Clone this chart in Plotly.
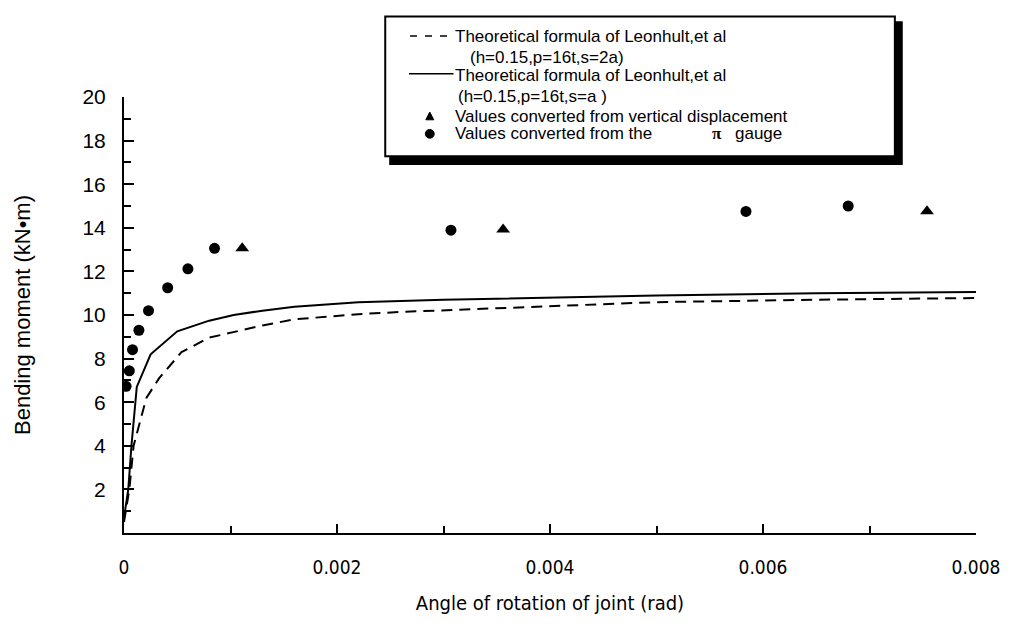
import plotly.graph_objects as go

# ---------------- data ----------------
solid_x = [0, 0.00004, 0.00007, 0.00012, 0.00025, 0.0005, 0.0008, 0.00103, 0.0013, 0.0016, 0.0022, 0.003, 0.005, 0.0065, 0.008]
solid_y = [0.7, 2.0, 4.0, 6.7, 8.2, 9.25, 9.74, 10.0, 10.2, 10.38, 10.58, 10.7, 10.9, 11.0, 11.06]

dashed_x = [0, 0.00005, 0.00009, 0.00021, 0.00033, 0.00054, 0.0008, 0.0013, 0.0016, 0.0022, 0.0026, 0.005, 0.0065, 0.008]
dashed_y = [0.5, 2.0, 4.0, 6.2, 7.1, 8.3, 8.96, 9.52, 9.8, 10.04, 10.14, 10.59, 10.7, 10.78]

gauge_x = [0.00002, 0.00005, 0.00008, 0.00014, 0.00023, 0.00041, 0.0006, 0.00085, 0.00307, 0.00584, 0.0068]
gauge_y = [6.73, 7.44, 8.41, 9.30, 10.2, 11.25, 12.12, 13.06, 13.89, 14.75, 15.0]

disp_x = [0.00111, 0.00356, 0.00754]
disp_y = [13.06, 13.92, 14.76]

x_tickvals = [0, 0.002, 0.004, 0.006, 0.008]
x_ticktext = ["0", "0.002", "0.004", "0.006", "0.008"]
y_tickvals = [2, 4, 6, 8, 10, 12, 14, 16, 18, 20]
y_ticktext = ["2", "4", "6", "8", "10", "12", "14", "16", "18", "20"]

legend_line1 = "Theoretical formula of Leonhult,et al"
legend_par_dashed = "(h=0.15,p=16t,s=2a)"
legend_par_solid = "(h=0.15,p=16t,s=a )"
legend_disp = "Values converted from vertical displacement"
legend_gauge = "Values converted from the"

# ---------------- layout geometry (pixels) ----------------
W, H = 1012, 623
L, R, T, B = 124, 985, 97, 546.5

def px(x):
    return (x - L) / (R - L)

def py(y):
    return (B - y) / (B - T)

SANS = "Liberation Sans, Arial, sans-serif"
NARROW = "Liberation Sans Narrow, Arial Narrow, DejaVu Sans Condensed, Roboto Condensed, Roboto, sans-serif"

fig = go.Figure()

fig.add_trace(go.Scatter(x=dashed_x, y=dashed_y, mode="lines",
                         line=dict(color="black", width=2, dash="11px,7px"),
                         name="dashed", showlegend=False))
fig.add_trace(go.Scatter(x=solid_x, y=solid_y, mode="lines",
                         line=dict(color="black", width=2),
                         name="solid", showlegend=False))
fig.add_trace(go.Scatter(x=gauge_x, y=gauge_y, mode="markers",
                         marker=dict(symbol="circle", size=11, color="black"),
                         name="gauge", showlegend=False))
fig.add_trace(go.Scatter(x=disp_x, y=disp_y, mode="markers",
                         marker=dict(symbol="triangle-up", size=12, color="black"),
                         name="disp", showlegend=False))

shapes = []
annotations = []

# legend box with shadow
shapes.append(dict(type="rect", xref="paper", yref="paper",
                   x0=px(392), x1=px(911), y0=py(167), y1=py(19),
                   fillcolor="black", line=dict(width=0), layer="above"))
shapes.append(dict(type="rect", xref="paper", yref="paper",
                   x0=px(388), x1=px(903), y0=py(158), y1=py(14),
                   fillcolor="white", line=dict(color="black", width=2), layer="above"))
# legend line samples
shapes.append(dict(type="line", xref="paper", yref="paper",
                   x0=px(413), x1=px(457), y0=py(34), y1=py(34),
                   line=dict(color="black", width=1.5, dash="7px,8px"), layer="above"))
shapes.append(dict(type="line", xref="paper", yref="paper",
                   x0=px(412), x1=px(457), y0=py(73), y1=py(73),
                   line=dict(color="black", width=1.5), layer="above"))
# legend marker samples
tri = "M {:.5f} {:.5f} L {:.5f} {:.5f} L {:.5f} {:.5f} Z".format(
    px(429), py(120.5), px(437), py(120.5), px(433), py(112.5))
shapes.append(dict(type="path", xref="paper", yref="paper", path=tri,
                   fillcolor="black", line=dict(color="black", width=1), layer="above"))
shapes.append(dict(type="circle", xref="paper", yref="paper",
                   x0=px(428.5), x1=px(437.5), y0=py(139.5), y1=py(130.5),
                   fillcolor="black", line=dict(color="black", width=1), layer="above"))

def txt(x, y, s, size=17, family=SANS):
    annotations.append(dict(xref="paper", yref="paper", x=px(x), y=py(y), text=s,
                            showarrow=False, xanchor="left", yanchor="middle",
                            font=dict(family=family, size=size, color="black")))

txt(456, 35, legend_line1)
txt(472, 56, legend_par_dashed)
txt(456, 75, legend_line1)
txt(460, 96, legend_par_solid)
txt(456, 117, legend_disp)
txt(456, 135, legend_gauge)
txt(716, 135, "<b>π</b>", size=17, family="Liberation Serif, serif")
txt(739, 135, "gauge")

fig.update_layout(
    width=W, height=H,
    margin=dict(l=L, r=W - R, t=T, b=H - B),
    paper_bgcolor="white", plot_bgcolor="white",
    showlegend=False,
    shapes=shapes, annotations=annotations,
    xaxis=dict(range=[0, 0.008], showgrid=False, zeroline=False,
               showline=True, linecolor="black", linewidth=2,
               ticks="inside", ticklen=9, tickwidth=1.5, tickcolor="black",
               tickvals=x_tickvals, ticktext=x_ticktext,
               minor=dict(ticks="inside", ticklen=7, tickwidth=1.5, tickcolor="black", dtick=0.001, showgrid=False),
               ticklabelstandoff=16,
               tickfont=dict(family=NARROW, size=19, color="black"),
               title=dict(text="Angle of rotation of joint (rad)", standoff=19,
                          font=dict(family=NARROW, size=20, color="black"))),
    yaxis=dict(range=[0, 20], showgrid=False, zeroline=False,
               showline=True, linecolor="black", linewidth=2,
               ticks="inside", ticklen=10, tickwidth=1.5, tickcolor="black",
               tickvals=y_tickvals, ticktext=y_ticktext,
               minor=dict(ticks="inside", ticklen=7, tickwidth=1.5, tickcolor="black", dtick=1, showgrid=False),
               ticklabelstandoff=12,
               tickfont=dict(family=SANS, size=21, color="black"),
               title=dict(text="Bending moment (kN•m)", standoff=46,
                          font=dict(family=SANS, size=22, color="black"))),
)

fig.write_html("out.html")
